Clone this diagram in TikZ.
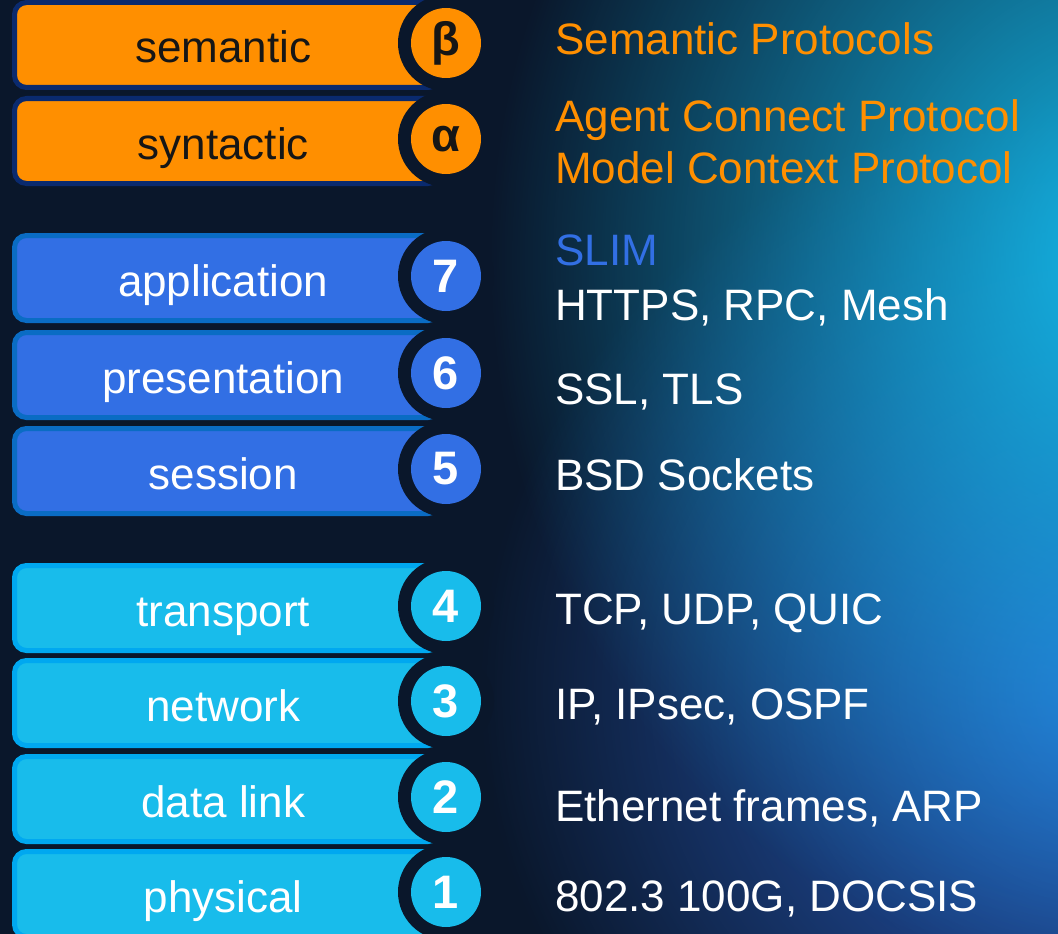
\documentclass[tikz,border=0pt]{standalone}
\usepackage{fontspec}
\setmainfont{Liberation Sans}
\usetikzlibrary{positioning,fadings}
\definecolor{OSIBack}{HTML}{0A172B}
\definecolor{OSIOrange}{HTML}{FF8F00}
\definecolor{OSIOrangeEdge}{HTML}{0A2A6E}
\definecolor{OSIBlue}{HTML}{326FE4}
\definecolor{OSIBlueEdge}{HTML}{0A6CC4}
\definecolor{OSICyan}{HTML}{18BCEB}
\definecolor{OSICyanEdge}{HTML}{00A8F0}
\definecolor{OSIGlowCyan}{HTML}{14B8E8}
\definecolor{OSIGlowBlue}{HTML}{2C66D4}
\definecolor{OSIInk}{HTML}{161616}
\newcommand{\osifont}{\fontsize{44}{52}\selectfont}
\newcommand{\osibadgefont}{\fontsize{47}{52}\selectfont\bfseries}
\tikzfading[name=osiglow, inner color=transparent!0, outer color=transparent!100]
\tikzset{
  osibar/.style={
    rectangle,
    rounded corners=12pt,
    line width=5pt,
    outer sep=0pt,
    inner sep=0pt,
    minimum width=425.5pt,
    minimum height=85pt
  },
  orangebar/.style={osibar,fill=OSIOrange,draw=OSIOrangeEdge},
  bluebar/.style={osibar,fill=OSIBlue,draw=OSIBlueEdge},
  cyanbar/.style={osibar,fill=OSICyan,draw=OSICyanEdge},
  osiring/.style={circle,fill=OSIBack,minimum size=96pt,inner sep=0pt},
  osibadge/.style={circle,minimum size=70pt,inner sep=0pt,font=\osibadgefont},
  osilabel/.style={anchor=base,font=\osifont,inner sep=0pt},
  osiproto/.style={anchor=base west,font=\osifont,inner sep=0pt,text=white}
}

\begin{document}
\begin{tikzpicture}[x=1pt,y=-1pt]
  \clip (0,0) rectangle (1058,934);
  % backdrop
  \fill[OSIBack] (0,0) rectangle (1058,934);
  \fill[OSIGlowBlue,path fading=osiglow] (1130,690) ellipse (650pt and 600pt);
  \fill[OSIGlowCyan,path fading=osiglow] (1140,260) ellipse (650pt and 720pt);

  % agent layers
  \foreach \id/\txt/\num/\cy in {sem/semantic/β/45, syn/syntactic/α/141}{
    \node[orangebar] (bar-\id) at (227.25,\cy) {};
    \node[osiring] (ring-\id) at (446,\cy-2) {};
    \node[osibadge,fill=OSIOrange,text=OSIInk] (badge-\id) at (ring-\id) {\num};
    \node[osilabel,text=OSIInk] (label-\id) at ([xshift=-4pt,yshift=-18pt]bar-\id.center) {\txt};
  }
  % upper osi layers
  \foreach \id/\txt/\num/\cy in {app/application/7/278, pres/presentation/6/375, sess/session/5/471}{
    \node[bluebar] (bar-\id) at (227.25,\cy) {};
    \node[osiring] (ring-\id) at (446,\cy-2) {};
    \node[osibadge,fill=OSIBlue,text=white] (badge-\id) at (ring-\id) {\num};
    \node[osilabel,text=white] (label-\id) at ([xshift=-4pt,yshift=-18pt]bar-\id.center) {\txt};
  }
  % lower osi layers
  \foreach \id/\txt/\num/\cy in {trans/transport/4/608, net/network/3/703, link/data link/2/799, phys/physical/1/894}{
    \node[cyanbar] (bar-\id) at (227.25,\cy) {};
    \node[osiring] (ring-\id) at (446,\cy-2) {};
    \node[osibadge,fill=OSICyan,text=white] (badge-\id) at (ring-\id) {\num};
    \node[osilabel,text=white] (label-\id) at ([xshift=-4pt,yshift=-18pt]bar-\id.center) {\txt};
  }

  % protocols
  \node[osiproto,text=OSIOrange] (p-sem) at (555,55) {Semantic Protocols};
  \node[osiproto,text=OSIOrange] (p-acp) at (555,131) {Agent Connect Protocol};
  \node[osiproto,text=OSIOrange] (p-mcp) at (555,183) {Model Context Protocol};
  \node[osiproto,text=OSIBlue] (p-slim) at (555,265) {SLIM};
  \node[osiproto] (p-app) at (555,320) {HTTPS, RPC, Mesh};
  \node[osiproto] (p-pres) at (555,404) {SSL, TLS};
  \node[osiproto] (p-sess) at (555,490) {BSD Sockets};
  \node[osiproto] (p-trans) at (555,624) {TCP, UDP, QUIC};
  \node[osiproto] (p-net) at (555,719) {IP, IPsec, OSPF};
  \node[osiproto] (p-link) at (555,821) {Ethernet frames, ARP};
  \node[osiproto] (p-phys) at (555,911) {802.3 100G, DOCSIS};
\end{tikzpicture}
\end{document}
